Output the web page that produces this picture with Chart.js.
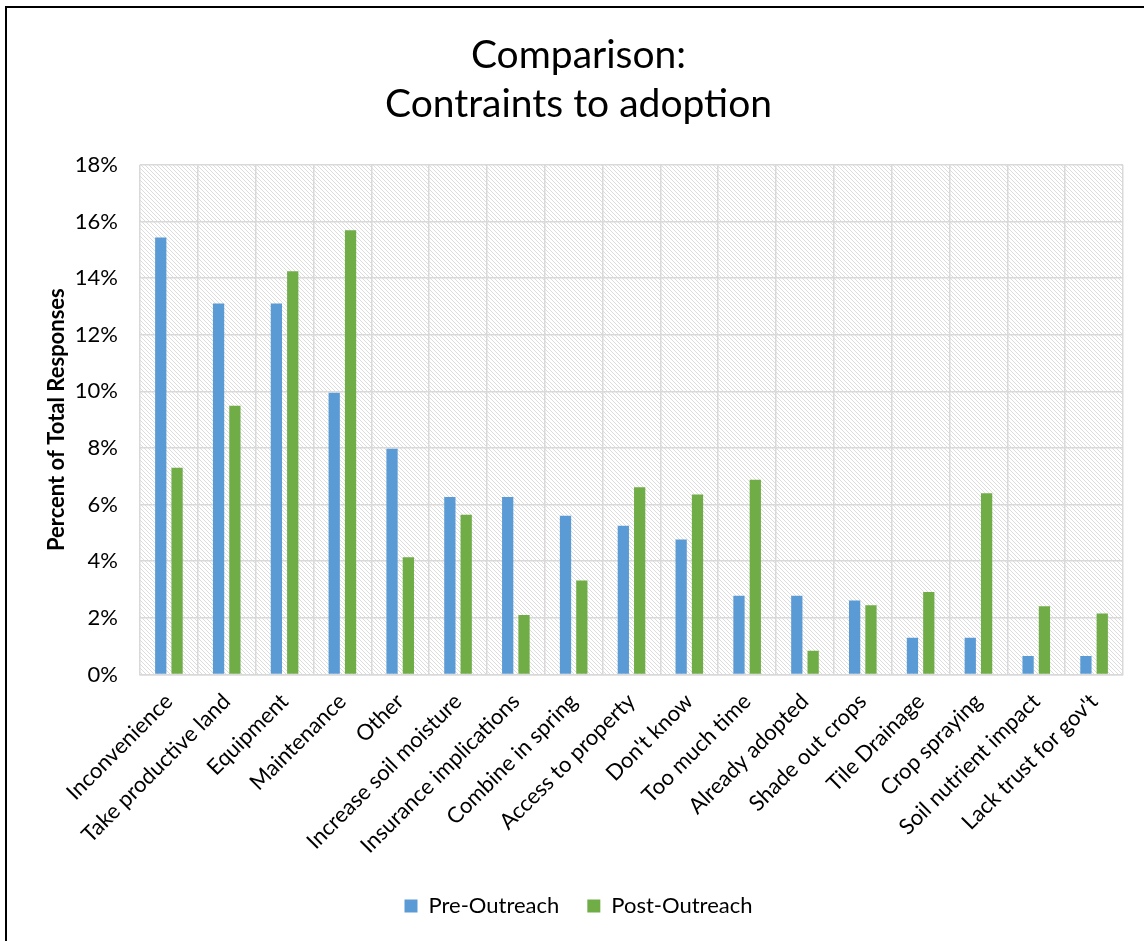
<!DOCTYPE html>
<html>
<head>
<meta charset="utf-8">
<title>Comparison: Contraints to adoption</title>
<script src="https://cdn.jsdelivr.net/npm/chart.js@4/dist/chart.umd.min.js"></script>
<style>
    html, body { margin: 0; padding: 0; background: #fff; }
    #chartWrap { width: 1144px; height: 941px; }
</style>
</head>
<body>
<div id="chartWrap"><canvas id="constraintsChart" width="1144" height="941"></canvas></div>
<script>
// Survey data (percent of total responses)
const categories = [
    'Inconvenience', 'Take productive land', 'Equipment', 'Maintenance', 'Other',
    'Increase soil moisture', 'Insurance implications', 'Combine in spring',
    'Access to property', "Don't know", 'Too much time', 'Already adopted',
    'Shade out crops', 'Tile Drainage', 'Crop spraying', 'Soil nutrient impact',
    "Lack trust for gov't"
];
const preOutreach = [15.43, 13.10, 13.10, 9.95, 7.97, 6.27, 6.27, 5.61, 5.25, 4.77, 2.78, 2.78, 2.61, 1.30, 1.30, 0.65, 0.65];
const postOutreach = [7.30, 9.49, 14.24, 15.69, 4.14, 5.64, 2.10, 3.32, 6.61, 6.36, 6.88, 0.84, 2.45, 2.91, 6.40, 2.41, 2.15];
const seriesNames = ['Pre-Outreach', 'Post-Outreach'];
const yTicks = [0, 2, 4, 6, 8, 10, 12, 14, 16, 18];

const FONT = 'Lato, "Open Sans", sans-serif';
const GRID = '#d9d9d9';

document.addEventListener('DOMContentLoaded', function() {
    createChart();
});

// light grey diagonal hatch like the Excel plot area fill
function makeHatch() {
    const tile = document.createElement('canvas');
    tile.width = 8;
    tile.height = 8;
    const tctx = tile.getContext('2d');
    tctx.fillStyle = '#fff';
    tctx.fillRect(0, 0, 8, 8);
    tctx.fillStyle = '#dcdcdc';
    for (let x = 0; x < 8; x++) {
        for (let y = 0; y < 8; y++) {
            const d = ((x - y) % 4 + 4) % 4;
            if (d < 2 && (x + y) % 2 === 0) tctx.fillRect(x, y, 1, 1);
        }
    }
    return tile;
}

const plotBackground = {
    id: 'plotBackground',
    beforeDraw(chart) {
        const { ctx, chartArea } = chart;
        ctx.save();
        ctx.fillStyle = ctx.createPattern(makeHatch(), 'repeat');
        ctx.fillRect(chartArea.left, chartArea.top, chartArea.right - chartArea.left, chartArea.bottom - chartArea.top);
        ctx.restore();
    }
};

// black frame on top and left edge
const frame = {
    id: 'frame',
    afterDraw(chart) {
        const ctx = chart.ctx;
        ctx.save();
        ctx.strokeStyle = '#000';
        ctx.lineWidth = 2;
        ctx.beginPath();
        ctx.moveTo(6, 941);
        ctx.lineTo(6, 7);
        ctx.lineTo(1144, 7);
        ctx.stroke();
        ctx.restore();
    }
};

function createChart() {
    const ctx = document.getElementById('constraintsChart').getContext('2d');
    new Chart(ctx, {
        type: 'bar',
        data: {
            labels: categories,
            datasets: [{
                label: seriesNames[0],
                data: preOutreach,
                backgroundColor: '#5B9BD5'
            }, {
                label: seriesNames[1],
                data: postOutreach,
                backgroundColor: '#70AD47'
            }]
        },
        options: {
            responsive: false,
            animation: false,
            categoryPercentage: 0.565,
            barPercentage: 0.69,
            layout: { padding: { left: 34, right: 21, top: 8, bottom: 14 } },
            plugins: {
                title: {
                    display: true,
                    text: ['Comparison:', 'Contraints to adoption'],
                    color: '#000',
                    font: { family: FONT, size: 39, weight: 'normal', lineHeight: 1.28 },
                    padding: { top: 22, bottom: 35 }
                },
                legend: {
                    position: 'bottom',
                    labels: {
                        color: '#000',
                        font: { family: FONT, size: 22 },
                        boxWidth: 13,
                        boxHeight: 13,
                        padding: 28
                    }
                },
                tooltip: { enabled: false }
            },
            scales: {
                x: {
                    grid: { color: GRID, lineWidth: 1.5, drawTicks: false },
                    border: { color: GRID, width: 1.5 },
                    ticks: {
                        color: '#000',
                        font: { family: FONT, size: 22 },
                        autoSkip: false,
                        minRotation: 45,
                        maxRotation: 45,
                        padding: 14
                    },
                    afterFit(scale) { scale.height = 192.5; }
                },
                y: {
                    min: 0,
                    max: 18,
                    afterBuildTicks(scale) {
                        scale.ticks = yTicks.map(v => ({ value: v }));
                    },
                    grid: { color: GRID, lineWidth: 1.5, drawTicks: false },
                    border: { display: false },
                    ticks: {
                        color: '#000',
                        font: { family: FONT, size: 22 },
                        padding: 22,
                        callback: v => v + '%'
                    },
                    title: {
                        display: true,
                        text: 'Percent of Total Responses',
                        color: '#000',
                        font: { family: FONT, size: 22, weight: 'bold' },
                        padding: { top: 10 }
                    },
                    afterFit(scale) { scale.width = 106; }
                }
            }
        },
        plugins: [plotBackground, frame]
    });
}
</script>
</body>
</html>
